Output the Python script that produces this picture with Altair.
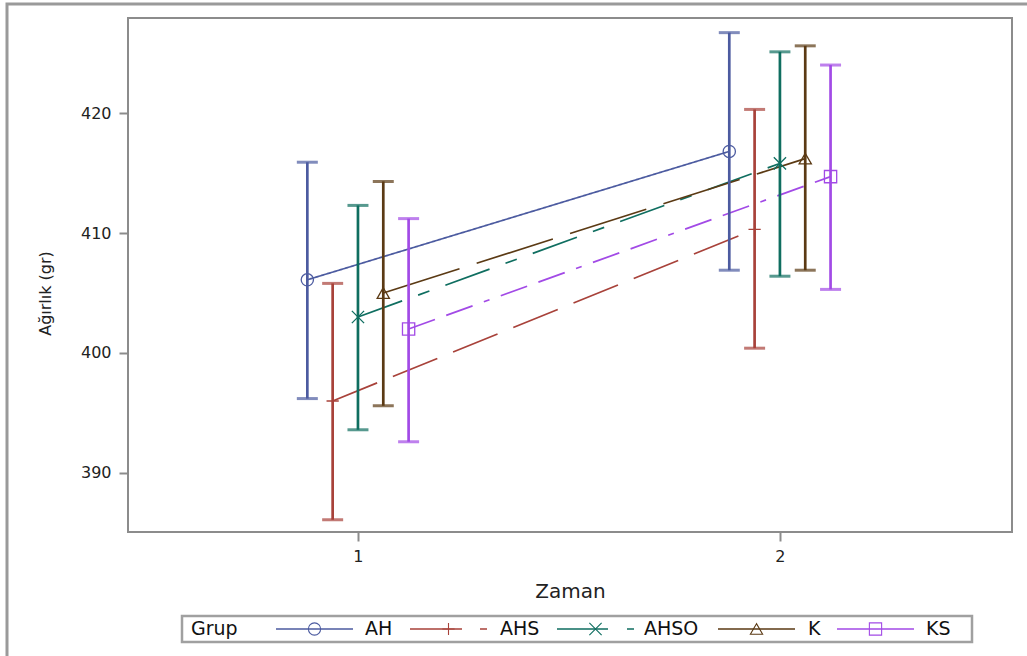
import altair as alt
import pandas as pd

# ---- data ----
groups = ["AH", "AHS", "AHSO", "K", "KS"]
times = [1, 2]
mean_t1 = [406.1, 396.0, 403.0, 405.0, 402.0]
mean_t2 = [416.8, 410.3, 415.8, 416.2, 414.7]
upper_t1 = [415.9, 405.8, 412.3, 414.3, 411.2]
upper_t2 = [426.7, 420.3, 425.1, 425.6, 424.0]
lower_t1 = [396.2, 386.1, 393.6, 395.6, 392.6]
lower_t2 = [406.9, 400.4, 406.4, 406.9, 405.3]

# ---- styles / layout ----
colors = ["#4c5ba0", "#a8423a", "#0f6e60", "#5b3a14", "#a24ae6"]
dashes = [[1, 0], [48, 17], [47, 17, 12, 17], [80, 18], [28, 12, 28, 12, 6, 12]]
shapes = ["circle", "M-1,0L1,0M0,-1L0,1", "M-1,-1L1,1M-1,1L1,-1", "triangle-up", "square"]
offsets = [-0.12, -0.06, 0.0, 0.06, 0.12]
legend_dash = [[1, 0], [52, 18], [51, 19], [1, 0], [1, 0]]
leg_x0 = [148, 282, 429, 590, 709]
leg_len = 77
leg_label_x = [237, 372, 516, 680, 798]
leg_y = 611
FONT = "DejaVu Sans"

rows = []
for i, g in enumerate(groups):
    for t, m, lo, hi in [(1, mean_t1[i], lower_t1[i], upper_t1[i]),
                         (2, mean_t2[i], lower_t2[i], upper_t2[i])]:
        rows.append({"grp": g, "time": t, "mean": m, "lo": lo, "hi": hi, "off": offsets[i]})
df = pd.DataFrame(rows)

xscale = alt.Scale(domain=[0.455, 2.55], nice=False, zero=False)
yscale = alt.Scale(domain=[385.08, 427.92], nice=False, zero=False)
cscale = alt.Scale(domain=groups, range=colors)

xaxis = alt.Axis(values=times, title="Zaman", format="d", grid=False, domain=False,
                 tickColor="#8c8c8c", tickWidth=2, tickSize=9, labelPadding=7,
                 labelFontSize=16, labelFont=FONT, labelColor="#222222",
                 titleFontSize=20, titleFont=FONT, titleFontWeight="normal",
                 titleColor="#222222", titleY=59, titleBaseline="middle")
yaxis = alt.Axis(values=[390, 400, 410, 420], title="Ağırlık (gr)", grid=False, domain=False,
                 tickColor="#8c8c8c", tickWidth=2, tickSize=9, labelPadding=8,
                 labelFontSize=16, labelFont=FONT, labelColor="#222222",
                 titleFontSize=16, titleFont=FONT, titleFontWeight="normal",
                 titleColor="#222222", titleX=-83, titleY=275,
                 titleBaseline="middle", titleAlign="center")

base = alt.Chart(df).transform_calculate(xpos="datum.time + datum.off").encode(
    x=alt.X("xpos:Q", scale=xscale, axis=xaxis),
    color=alt.Color("grp:N", scale=cscale, legend=None),
)

lines = base.mark_line(strokeWidth=1.7).encode(
    y=alt.Y("mean:Q", scale=yscale, axis=yaxis),
    strokeDash=alt.StrokeDash("grp:N", scale=alt.Scale(domain=groups, range=dashes), legend=None),
)
bars = base.mark_rule(strokeWidth=2.7).encode(y=alt.Y("lo:Q", scale=yscale), y2="hi:Q")
cap_hi = base.mark_tick(orient="horizontal", size=21, thickness=3).encode(y=alt.Y("hi:Q", scale=yscale))
cap_lo = base.mark_tick(orient="horizontal", size=21, thickness=3).encode(y=alt.Y("lo:Q", scale=yscale))
points = base.mark_point(filled=False, size=150, strokeWidth=1.3, opacity=1).encode(
    y=alt.Y("mean:Q", scale=yscale),
    shape=alt.Shape("grp:N", scale=alt.Scale(domain=groups, range=shapes), legend=None),
)

# ---- custom legend (layout in pixels) ----
one = pd.DataFrame({"a": [0]})
outer = alt.Chart(one).mark_rect(fillOpacity=0, stroke="#9a9a9a", strokeWidth=3).encode(
    x=alt.value(-121), x2=alt.value(905), y=alt.value(-14), y2=alt.value(650))
legbox = alt.Chart(one).mark_rect(fillOpacity=0, stroke="#a0a0a0", strokeWidth=2.5).encode(
    x=alt.value(54), x2=alt.value(844), y=alt.value(598), y2=alt.value(624))

leg = pd.DataFrame({
    "grp": groups,
    "lx0": leg_x0,
    "lx1": [v + leg_len for v in leg_x0],
    "lmx": [v + leg_len / 2 for v in leg_x0],
    "ltx": leg_label_x,
    "ly": [leg_y] * len(groups),
})
leg_layers = []
for i, g in enumerate(groups):
    leg_layers.append(
        alt.Chart(leg[leg.grp == g]).mark_rule(strokeWidth=1.7, strokeDash=legend_dash[i], color=colors[i]).encode(
            x=alt.X("lx0:Q", scale=None, axis=None), x2="lx1:Q",
            y=alt.Y("ly:Q", scale=None, axis=None))
    )
leg_pts = alt.Chart(leg).mark_point(filled=False, size=150, strokeWidth=1.1, opacity=1).encode(
    x=alt.X("lmx:Q", scale=None, axis=None), y=alt.Y("ly:Q", scale=None, axis=None),
    color=alt.Color("grp:N", scale=cscale, legend=None),
    shape=alt.Shape("grp:N", scale=alt.Scale(domain=groups, range=shapes), legend=None),
)
leg_txt = alt.Chart(leg).mark_text(align="left", baseline="middle", fontSize=19, font=FONT, color="#111111").encode(
    x=alt.X("ltx:Q", scale=None, axis=None), y=alt.Y("ly:Q", scale=None, axis=None), text="grp:N")
leg_title = alt.Chart(one).mark_text(align="left", baseline="middle", fontSize=19, font=FONT,
                                      color="#111111", text="Grup").encode(
    x=alt.value(63), y=alt.value(leg_y))

chart = alt.layer(lines, bars, cap_hi, cap_lo, points, outer, legbox, *leg_layers, leg_pts, leg_txt, leg_title).properties(
    width=884, height=514,
    autosize=alt.AutoSizeParams(type="none"),
    padding={"left": 128, "top": 18, "right": 15, "bottom": 124},
    background="white",
).configure_view(stroke="#8c8c8c", strokeWidth=2)

chart.save("out.html", embed_options={"renderer": "svg", "actions": False})
